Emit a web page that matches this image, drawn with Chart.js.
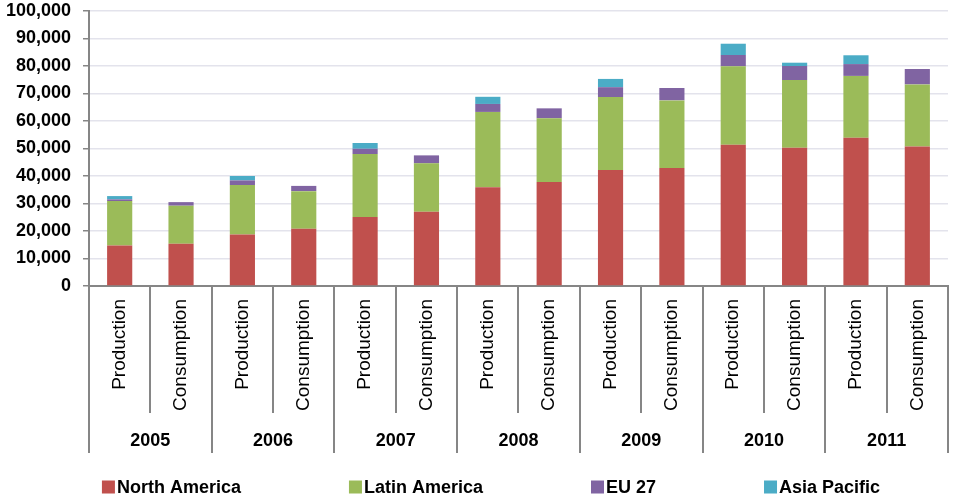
<!DOCTYPE html>
<html>
<head>
<meta charset="utf-8">
<script src="https://cdn.jsdelivr.net/npm/chart.js@4"></script>
<style>
  html, body { margin: 0; padding: 0; background: #fff; }
  #wrap { width: 961px; height: 502px; position: relative; }
</style>
</head>
<body>
<div id="wrap"><canvas id="chartCanvas"></canvas></div>
<script>
// Chart data
const years = ['2005', '2006', '2007', '2008', '2009', '2010', '2011'];
const kinds = ['Production', 'Consumption'];
const yTicks = [0, 10000, 20000, 30000, 40000, 50000, 60000, 70000, 80000, 90000, 100000];

const northAmerica = [14700, 15400, 18700, 20800, 25100, 27000, 35900, 37800, 42200, 42900, 51400, 50300, 53900, 50700];
const latinAmerica = [16200, 13800, 18000, 13700, 22900, 17600, 27400, 23200, 26500, 24600, 28500, 24600, 22500, 22600];
const eu27 = [600, 1300, 1700, 1900, 1900, 2900, 2900, 3600, 3600, 4500, 4100, 5100, 4300, 5600];
const asiaPacific = [1200, 0, 1600, 0, 2100, 0, 2600, 0, 3000, 0, 4100, 1200, 3200, 0];

// one label per bar: Production / Consumption for every year
const labels = [];
years.forEach(function(y) {
  kinds.forEach(function(k) { labels.push(k); });
});

const axisColor = '#868686';
const fontFamily = '"Liberation Sans", Arial, sans-serif';

// Year row, separator lines and the legend, drawn below the axis
const groupAxis = {
  id: 'groupAxis',
  afterDraw(chart) {
    const ctx = chart.ctx;
    const x = chart.scales.x;
    const bottom = chart.chartArea.bottom;
    const step = x.getPixelForValue(1) - x.getPixelForValue(0);

    ctx.save();
    ctx.strokeStyle = axisColor;
    ctx.lineWidth = 2;
    for (let i = 0; i <= labels.length; i++) {
      const px = Math.round(x.getPixelForValue(i) - step / 2);
      const end = (i % 2 === 0) ? bottom + 167 : bottom + 127;
      ctx.beginPath();
      ctx.moveTo(px, bottom);
      ctx.lineTo(px, end);
      ctx.stroke();
    }

    ctx.fillStyle = '#000';
    ctx.font = 'bold 18px ' + fontFamily;
    ctx.textAlign = 'center';
    ctx.textBaseline = 'middle';
    years.forEach(function(y, i) {
      const px = (x.getPixelForValue(i * 2) + x.getPixelForValue(i * 2 + 1)) / 2;
      ctx.fillText(y, px, bottom + 155);
    });

    // legend
    const sets = chart.data.datasets;
    const box = 13, gapText = 2, gapItem = 108;
    const widths = sets.map(function(d) { return ctx.measureText(d.label).width; });
    let total = 0;
    widths.forEach(function(w) { total += box + gapText + w; });
    total += gapItem * (sets.length - 1);
    let lx = 491 - total / 2;
    const ly = 487;
    ctx.textAlign = 'left';
    sets.forEach(function(d, i) {
      ctx.fillStyle = d.backgroundColor;
      ctx.fillRect(lx, ly - box / 2, box, box);
      ctx.fillStyle = '#000';
      ctx.fillText(d.label, lx + box + gapText, ly + 1);
      lx += box + gapText + widths[i] + gapItem;
    });
    ctx.restore();
  }
};

new Chart(document.getElementById('chartCanvas'), {
  type: 'bar',
  data: {
    labels: labels,
    datasets: [
      { label: 'North America', data: northAmerica, backgroundColor: '#C0504D' },
      { label: 'Latin America', data: latinAmerica, backgroundColor: '#9BBB59' },
      { label: 'EU 27', data: eu27, backgroundColor: '#8064A2' },
      { label: 'Asia Pacific', data: asiaPacific, backgroundColor: '#4BACC6' }
    ]
  },
  options: {
    responsive: true,
    maintainAspectRatio: false,
    animation: false,
    layout: { padding: { top: 11, right: 13, left: 0, bottom: 0 } },
    datasets: { bar: { categoryPercentage: 1, barPercentage: 0.41 } },
    plugins: {
      legend: { display: false },
      tooltip: { enabled: false }
    },
    scales: {
      x: {
        stacked: true,
        afterFit(scale) {
          scale.height = 216;
          scale.paddingTop = 0;
        },
        grid: { display: false, drawTicks: false },
        border: { color: axisColor, width: 2 },
        ticks: {
          color: '#000',
          font: { family: fontFamily, size: 19 },
          minRotation: 90,
          maxRotation: 90,
          padding: 13,
          autoSkip: false
        }
      },
      y: {
        stacked: true,
        min: 0,
        max: 100000,
        afterFit(scale) {
          scale.width = 89;
          scale.paddingTop = 0;
          scale.paddingBottom = 0;
        },
        afterBuildTicks(scale) {
          scale.ticks = yTicks.map(function(v) { return { value: v }; });
        },
        grid: { color: '#E3E3EC', lineWidth: 1.5, tickColor: axisColor, tickLength: 6 },
        border: { color: axisColor, width: 2 },
        ticks: {
          color: '#000',
          font: { family: fontFamily, size: 18, weight: 'bold' },
          padding: 12,
          callback: function(v) { return v.toLocaleString('en-US'); }
        }
      }
    }
  },
  plugins: [groupAxis]
});
</script>
</body>
</html>
